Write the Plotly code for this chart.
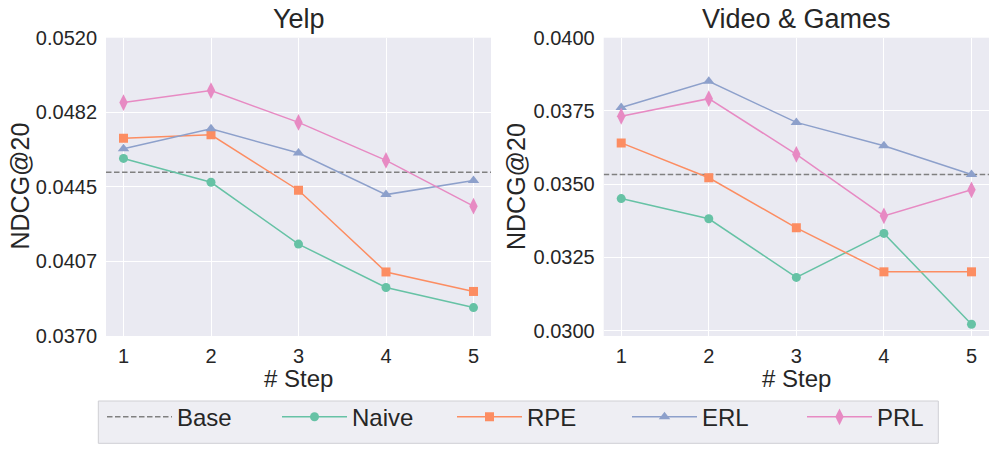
import plotly.graph_objects as go

steps = [1, 2, 3, 4, 5]

# Yelp
yelp_base = 0.04523
yelp_naive = [0.04593, 0.04473, 0.04162, 0.03944, 0.03843]
yelp_rpe = [0.04694, 0.04712, 0.04433, 0.04022, 0.03924]
yelp_erl = [0.04642, 0.04742, 0.04620, 0.04411, 0.04482]
yelp_prl = [0.04874, 0.04934, 0.04774, 0.04583, 0.04353]
yelp_ticks = [0.0370, 0.04075, 0.0445, 0.04825, 0.0520]
yelp_ticktext = ["0.0370", "0.0407", "0.0445", "0.0482", "0.0520"]
yelp_range = [0.0370, 0.0520]

# Video & Games
vg_base = 0.03533
vg_naive = [0.03451, 0.03382, 0.03182, 0.03332, 0.03022]
vg_rpe = [0.03641, 0.03522, 0.03351, 0.03201, 0.03201]
vg_erl = [0.03762, 0.03851, 0.03711, 0.03631, 0.03533]
vg_prl = [0.03732, 0.03792, 0.03602, 0.03392, 0.03481]
vg_ticks = [0.0300, 0.0325, 0.0350, 0.0375, 0.0400]
vg_ticktext = ["0.0300", "0.0325", "0.0350", "0.0375", "0.0400"]
vg_range = [0.02982, 0.0400]

x_range = [0.8, 5.2]

series_names = ["Naive", "RPE", "ERL", "PRL"]
colors = ["#66c2a5", "#fc8d62", "#8da0cb", "#e78ac3"]
symbols = ["circle", "square", "triangle-up", "diamond-tall"]
sizes = [9, 9, 10, 12]

FONT = "Liberation Sans, Arial, sans-serif"
TXT = "#262626"

# page body has an 8px margin, so the figure is 8px smaller and offset
W, H, OFF = 989, 443, 8


def px(xp):
    return (xp - OFF) / W


def py(yp):
    return 1 - (yp - OFF) / H


fig = go.Figure()

panels = [
    ("x", "y", yelp_base, [yelp_naive, yelp_rpe, yelp_erl, yelp_prl]),
    ("x2", "y2", vg_base, [vg_naive, vg_rpe, vg_erl, vg_prl]),
]

for i, (xa, ya, base, vals) in enumerate(panels):
    fig.add_trace(go.Scatter(
        x=x_range, y=[base, base], mode="lines", name="Base",
        line=dict(color="#808080", width=1.5, dash="5.5px,2.5px"),
        xaxis=xa, yaxis=ya, showlegend=(i == 0)))
    for name, c, s, sz, v in zip(series_names, colors, symbols, sizes, vals):
        fig.add_trace(go.Scatter(
            x=steps, y=v, mode="lines+markers", name=name,
            line=dict(color=c, width=1.5),
            marker=dict(color=c, symbol=s, size=sz),
            xaxis=xa, yaxis=ya, showlegend=(i == 0)))

axis_common = dict(
    showgrid=True, gridcolor="white", gridwidth=1.2, zeroline=False,
    showline=False, tickfont=dict(family=FONT, size=20, color=TXT),
    ticks="outside", tickcolor="rgba(0,0,0,0)",
)

ydom = [py(336), py(37.7)]

fig.update_layout(
    width=W, height=H,
    margin=dict(l=0, r=0, t=0, b=0, autoexpand=False),
    paper_bgcolor="white", plot_bgcolor="#eaeaf2",
    font=dict(family=FONT, color=TXT),
    xaxis=dict(domain=[px(106), px(491)], range=x_range, tickvals=steps,
               anchor="y", ticklen=2, **axis_common),
    yaxis=dict(domain=ydom, range=yelp_range, tickvals=yelp_ticks,
               ticktext=yelp_ticktext, anchor="x", ticklen=4, **axis_common),
    xaxis2=dict(domain=[px(603.7), px(989)], range=x_range, tickvals=steps,
                anchor="y2", ticklen=2, **axis_common),
    yaxis2=dict(domain=ydom, range=vg_range, tickvals=vg_ticks,
                ticktext=vg_ticktext, anchor="x2", ticklen=4, **axis_common),
    legend=dict(orientation="h", x=px(102), xanchor="left", y=py(394.7), yanchor="top",
                bgcolor="rgba(0,0,0,0)", borderwidth=0,
                font=dict(family=FONT, size=24, color=TXT),
                entrywidth=95, entrywidthmode="pixels", itemwidth=65),
)

# legend frame
fig.add_shape(type="rect", xref="paper", yref="paper",
              x0=px(98.3), x1=px(938.3), y0=py(443.3), y1=py(401),
              fillcolor="#eeeef3", line=dict(color="#cfcfd4", width=1), layer="above")

annots = [
    dict(text="Yelp", x=px(298.5), y=py(19), size=27, angle=0),
    dict(text="Video & Games", x=px(796.3), y=py(19), size=27, angle=0),
    dict(text="# Step", x=px(298.5), y=py(378), size=24, angle=0),
    dict(text="# Step", x=px(796.3), y=py(378), size=24, angle=0),
    dict(text="NDCG@20", x=px(19), y=py(186.5), size=25, angle=-90),
    dict(text="NDCG@20", x=px(515.5), y=py(186.5), size=25, angle=-90),
]
for a in annots:
    fig.add_annotation(text=a["text"], x=a["x"], y=a["y"], xref="paper", yref="paper",
                       showarrow=False, textangle=a["angle"],
                       font=dict(family=FONT, size=a["size"], color=TXT),
                       xanchor="center", yanchor="middle")

fig.write_html("out.html")
